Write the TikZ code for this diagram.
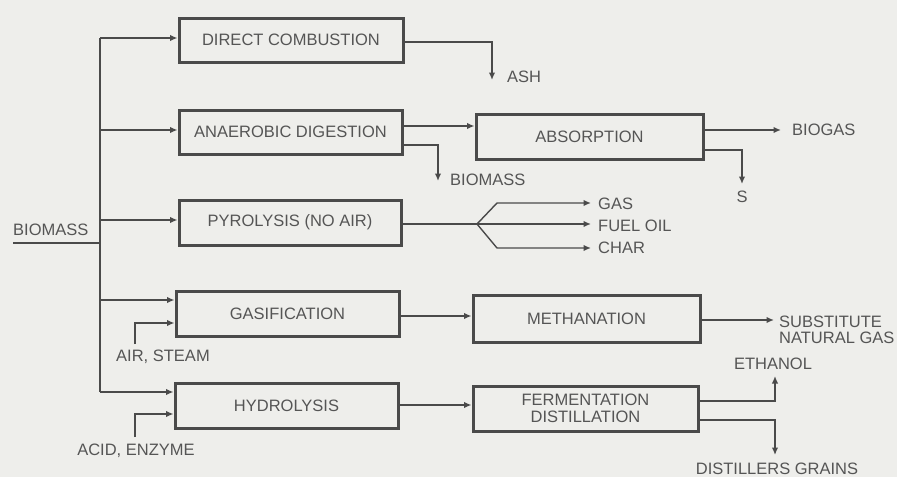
\documentclass[tikz,border=0pt]{standalone}
\usepackage{fontspec}
\setmainfont{Liberation Sans}
\usetikzlibrary{arrows.meta,calc}
\definecolor{bg}{HTML}{EEEEEB}
\definecolor{ink}{HTML}{4A4A4A}
\definecolor{txt}{HTML}{555555}
\begin{document}
\begin{tikzpicture}[x=1pt,y=-1pt,
  every node/.style={font=\fontsize{16.5}{19}\selectfont,text=txt},
  procbox/.style={draw=ink,line width=3pt,rectangle,inner sep=0pt,align=center},
  conn/.style={draw=ink,line width=1.4pt},
  arr/.style={conn,-{Latex[length=7.5pt,width=6.5pt]}},
  lbl/.style={inner sep=0pt,anchor=west},
  clbl/.style={inner sep=0pt,anchor=center}]
\useasboundingbox (0,0) rectangle (897,477);
\fill[bg] (0,0) rectangle (897,477);
% boxes
\node[procbox,minimum width=224pt,minimum height=44pt] (dc) at (291,40) {DIRECT COMBUSTION};
\node[procbox,minimum width=223pt,minimum height=44pt] (ad) at (290.5,132) {ANAEROBIC DIGESTION};
\node[procbox,minimum width=222pt,minimum height=45pt] (py) at (290,222.5) {PYROLYSIS (NO AIR)};
\node[procbox,minimum width=223pt,minimum height=45pt] (ga) at (287.5,313.5) {GASIFICATION};
\node[procbox,minimum width=223pt,minimum height=45pt] (hy) at (286.5,405.5) {HYDROLYSIS};
\node[procbox,minimum width=227pt,minimum height=45pt] (ab) at (589.5,136.5) {ABSORPTION};
\node[procbox,minimum width=227pt,minimum height=47pt] (me) at (586.5,318.5) {METHANATION};
\node[procbox,minimum width=225pt,minimum height=45pt,font=\fontsize{16.5}{16.5}\selectfont] (fe) at (585.5,408.5) {FERMENTATION\\DISTILLATION};
% labels
\node[lbl] (biomass) at (13,230) {BIOMASS};
\node[lbl] (ash) at (507,77) {ASH};
\node[lbl] (biom2) at (450,180) {BIOMASS};
\node[lbl] (biogas) at (792,130) {BIOGAS};
\node[clbl] (s) at (742,197) {S};
\node[lbl] (gas) at (598,204) {GAS};
\node[lbl] (fuel) at (598,226) {FUEL OIL};
\node[lbl] (char) at (598,248) {CHAR};
\node[clbl] (air) at (163,357) {AIR, STEAM};
\node[clbl] (acid) at (136,451) {ACID, ENZYME};
\node[lbl,align=left,font=\fontsize{16.5}{16}\selectfont] (sng) at (779,330) {SUBSTITUTE\\NATURAL GAS};
\node[clbl] (eth) at (773,364) {ETHANOL};
\node[clbl] (dg) at (777,469) {DISTILLERS GRAINS};
% coordinates
\coordinate (bl) at (13,243);
\coordinate (bj) at (100,243);
\coordinate (ttop) at (100,38);
\coordinate (tbot) at (100,392);
\coordinate (fork) at (477,224);
\coordinate (gup) at (497,203);
\coordinate (gdn) at (497,248);
\coordinate (ashT) at (492,80);
\coordinate (bmT) at (438,181);
\coordinate (sT) at (742,184);
\coordinate (bgT) at (781,130);
\coordinate (gasT) at (591,203);
\coordinate (fuelT) at (591,224);
\coordinate (charT) at (591,248);
\coordinate (sngT) at (774,320);
\coordinate (ethT) at (775,376);
\coordinate (dgT) at (775,455);
\coordinate (airS) at (135,344);
\coordinate (acidS) at (135,437);
% trunk
\draw[conn] (bl) -- (bj);
\draw[conn] (ttop) -- (tbot);
\draw[arr] (ttop) -- (dc.west |- ttop);
\draw[arr] (100,130) -- (ad.west |- 0,130);
\draw[arr] (100,220) -- (py.west |- 0,220);
\draw[arr] (100,300) -- (ga.west |- 0,300);
\draw[arr] (tbot) -- (hy.west |- tbot);
\draw[arr] (airS) |- (ga.west |- 0,323);
\draw[arr] (acidS) |- (hy.west |- 0,414);
% outputs
\draw[arr] (dc.east |- 0,42) -| (ashT);
\draw[arr] (ad.east |- 0,126) -- (ab.west |- 0,126);
\draw[arr] (ad.east |- 0,145) -| (bmT);
\draw[arr] (ab.east |- bgT) -- (bgT);
\draw[arr] (ab.east |- 0,150) -| (sT);
\draw[conn] (py.east |- fork) -- (fork);
\draw[arr] (fork) -- (gup) -- (gasT);
\draw[arr] (fork) -- (fuelT);
\draw[arr] (fork) -- (gdn) -- (charT);
\draw[arr] (ga.east |- 0,316) -- (me.west |- 0,316);
\draw[arr] (me.east |- sngT) -- (sngT);
\draw[arr] (hy.east |- 0,405) -- (fe.west |- 0,405);
\draw[arr] (fe.east |- 0,401) -| (ethT);
\draw[arr] (fe.east |- 0,420) -| (dgT);
\end{tikzpicture}
\end{document}
